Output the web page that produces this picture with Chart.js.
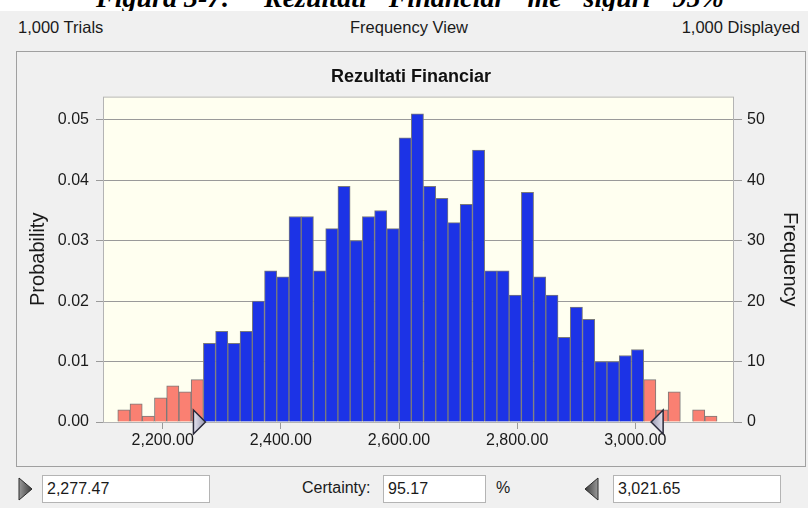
<!DOCTYPE html>
<html>
<head>
<meta charset="utf-8">
<script src="https://cdn.jsdelivr.net/npm/chart.js@4.4.1/dist/chart.umd.min.js"></script>
<style>
  html, body { margin: 0; padding: 0; }
  body { width: 808px; height: 508px; position: relative; overflow: hidden; background: #f0f0f0;
         font-family: "Liberation Sans", Arial, sans-serif; color: #1a1a1a; }
  #caption { position: absolute; left: 0; top: 0; width: 808px; height: 11px; background: #fff; overflow: hidden; }
  #caption span { position: absolute; top: -16px; font: italic bold 28px/28px "Liberation Serif", serif; color: #000; white-space: nowrap; }
  .hdr { position: absolute; top: 18px; font-size: 16.5px; white-space: nowrap; }
  #frame { position: absolute; left: 16px; top: 51px; width: 788px; height: 414px; border: 1px solid #a0a0a0; }
  #frame canvas { position: absolute; left: 0; top: 0; }
  .box { position: absolute; top: 475px; background: #fff; border: 1px solid #b4b4b4;
         font-size: 16px; line-height: 26px; padding-left: 4px; box-sizing: border-box; height: 28px; }
  .lbl { position: absolute; top: 479px; font-size: 16px; }
  .ico { position: absolute; top: 477px; }
</style>
</head>
<body>
<div id="caption">
  <span style="left:96px">Figura 3-7:</span>
  <span style="left:264px;word-spacing:15px">Rezultati Financiar me siguri 95%</span>
</div>
<div class="hdr" style="left:18px">1,000 Trials</div>
<div class="hdr" style="left:350px">Frequency View</div>
<div class="hdr" style="right:8px">1,000 Displayed</div>
<div id="frame"><canvas id="chart" width="788" height="414"></canvas></div>

<svg class="ico" style="left:18px" width="15" height="24"><defs><linearGradient id="g1" x1="0" x2="1"><stop offset="0" stop-color="#9a9a9a"/><stop offset="1" stop-color="#3a3a3a"/></linearGradient></defs><polygon points="1,1 14,12 1,23" fill="url(#g1)" stroke="#2a2a2a"/></svg>
<div class="box" style="left:42px;width:168px">2,277.47</div>
<div class="lbl" style="left:302px">Certainty:</div>
<div class="box" style="left:383px;width:103px">95.17</div>
<div class="lbl" style="left:496px">%</div>
<svg class="ico" style="left:584px" width="15" height="24"><defs><linearGradient id="g2" x1="1" x2="0"><stop offset="0" stop-color="#9a9a9a"/><stop offset="1" stop-color="#3a3a3a"/></linearGradient></defs><polygon points="14,1 1,12 14,23" fill="url(#g2)" stroke="#2a2a2a"/></svg>
<div class="box" style="left:613px;width:168px">3,021.65</div>

<script>
// bin centres (bin width about 20.7)
const binCenters = [2134.35, 2155.05, 2175.75, 2196.45, 2217.15, 2237.85, 2258.55, 2279.25, 2299.95, 2320.65,
    2341.35, 2362.05, 2382.75, 2403.45, 2424.15, 2444.85, 2465.55, 2486.25, 2506.95, 2527.65,
    2548.35, 2569.05, 2589.75, 2610.45, 2631.15, 2651.85, 2672.55, 2693.25, 2713.95, 2734.65,
    2755.35, 2776.05, 2796.75, 2817.45, 2838.15, 2858.85, 2879.55, 2900.25, 2920.95, 2941.65,
    2962.35, 2983.05, 3003.75, 3024.45, 3045.15, 3065.85, 3086.55, 3107.25, 3127.95]
const frequency = [2, 3, 1, 4, 6, 5, 7, 13, 15, 13, 15, 20, 25, 24, 34, 34, 25, 32, 39, 30,
    34, 35, 32, 47, 51, 39, 37, 33, 36, 45, 25, 25, 21, 38, 24, 21, 14, 19, 17, 10,
    10, 11, 12, 7, 2, 5, 0, 2, 1]
const xTicks = [2200, 2400, 2600, 2800, 3000]
const probTicks = [0, 0.01, 0.02, 0.03, 0.04, 0.05]
const freqTicks = [0, 10, 20, 30, 40, 50]
const certaintyLow = 2277.47
const certaintyHigh = 3021.65
const trials = 1000

const blue = '#1c33e6'
const salmon = '#fa8072'
const gridGrey = '#9a9a9a'

// plot background + border + certainty grabbers
const plotDecor = {
    id: 'plotDecor',
    beforeDraw(chart) {
        const a = chart.chartArea, c = chart.ctx
        c.save()
        c.fillStyle = '#fffff0'
        c.fillRect(a.left, a.top, a.right - a.left, a.bottom - a.top)
        c.restore()
    },
    afterDatasetsDraw(chart) {
        const a = chart.chartArea, c = chart.ctx, x = chart.scales.x
        c.save()
        c.strokeStyle = '#b4b4b4'
        c.lineWidth = 1
        c.strokeRect(a.left + 0.5, a.top + 0.5, a.right - a.left - 1, a.bottom - a.top)
        const drawGrab = (px, dir) => {
            const tip = px + dir * 3, back = tip + dir * 12
            const g = c.createLinearGradient(back, 0, tip, 0)
            g.addColorStop(0, '#e4e4f0')
            g.addColorStop(1, '#9898b0')
            c.beginPath()
            c.moveTo(back, a.bottom - 12)
            c.lineTo(tip, a.bottom)
            c.lineTo(back, a.bottom + 12)
            c.closePath()
            c.fillStyle = g
            c.fill()
            c.strokeStyle = '#2a2a3a'
            c.lineWidth = 1.5
            c.stroke()
        }
        drawGrab(x.getPixelForValue(certaintyLow), -1)
        drawGrab(x.getPixelForValue(certaintyHigh), 1)
        c.restore()
    }
}

const fmtMoney = v => v.toLocaleString('en-US', { minimumFractionDigits: 2, maximumFractionDigits: 2 })

new Chart(document.getElementById('chart'), {
    type: 'bar',
    data: {
        datasets: [{
            data: binCenters.map((b, i) => ({ x: b, y: frequency[i] })),
            yAxisID: 'yFreq',
            backgroundColor: ctx => {
                const v = ctx.raw ? ctx.raw.x : 0
                return (v < certaintyLow || v > certaintyHigh) ? salmon : blue
            },
            borderColor: '#7a7a7a',
            borderWidth: 1,
            barPercentage: 1,
            categoryPercentage: 1
        }]
    },
    options: {
        responsive: false,
        animation: false,
        layout: { padding: 0 },
        plugins: {
            legend: { display: false },
            tooltip: { enabled: false },
            title: {
                display: true,
                text: 'Rezultati Financiar',
                color: '#111',
                font: { family: 'Liberation Sans', size: 18, weight: 'bold' },
                padding: { top: 14, bottom: 9 }
            }
        },
        scales: {
            x: {
                type: 'linear',
                offset: false,
                min: 2099,
                max: 3167,
                afterFit: s => { s.height = 44 },
                afterBuildTicks: s => { s.ticks = xTicks.map(v => ({ value: v })) },
                ticks: {
                    callback: v => fmtMoney(v),
                    color: '#1a1a1a',
                    font: { family: 'Liberation Sans', size: 16 },
                    padding: 2,
                    maxRotation: 0
                },
                grid: { offset: false, drawOnChartArea: false, tickLength: 7, color: gridGrey },
                border: { display: false }
            },
            y: {
                position: 'left',
                min: 0,
                max: 0.05384,
                afterFit: s => { s.width = 86 },
                afterBuildTicks: s => { s.ticks = probTicks.map(v => ({ value: v })) },
                ticks: {
                    callback: v => v.toFixed(2),
                    color: '#1a1a1a',
                    font: { family: 'Liberation Sans', size: 16 },
                    padding: 7
                },
                grid: { color: gridGrey, tickLength: 7, tickColor: gridGrey },
                border: { display: false },
                title: {
                    display: true,
                    text: 'Probability',
                    color: '#1a1a1a',
                    font: { family: 'Liberation Sans', size: 20 },
                    padding: { top: 9, bottom: 0 }
                }
            },
            yFreq: {
                position: 'right',
                min: 0,
                max: trials * 0.05384,
                afterFit: s => { s.width = 71 },
                afterBuildTicks: s => { s.ticks = freqTicks.map(v => ({ value: v })) },
                ticks: {
                    color: '#1a1a1a',
                    font: { family: 'Liberation Sans', size: 16 },
                    padding: 5
                },
                grid: { drawOnChartArea: false, tickLength: 8, tickColor: gridGrey },
                border: { display: false },
                title: {
                    display: true,
                    text: 'Frequency',
                    color: '#1a1a1a',
                    font: { family: 'Liberation Sans', size: 20 },
                    padding: { top: 3, bottom: 0 }
                }
            }
        }
    },
    plugins: [plotDecor]
})
</script>
</body>
</html>
